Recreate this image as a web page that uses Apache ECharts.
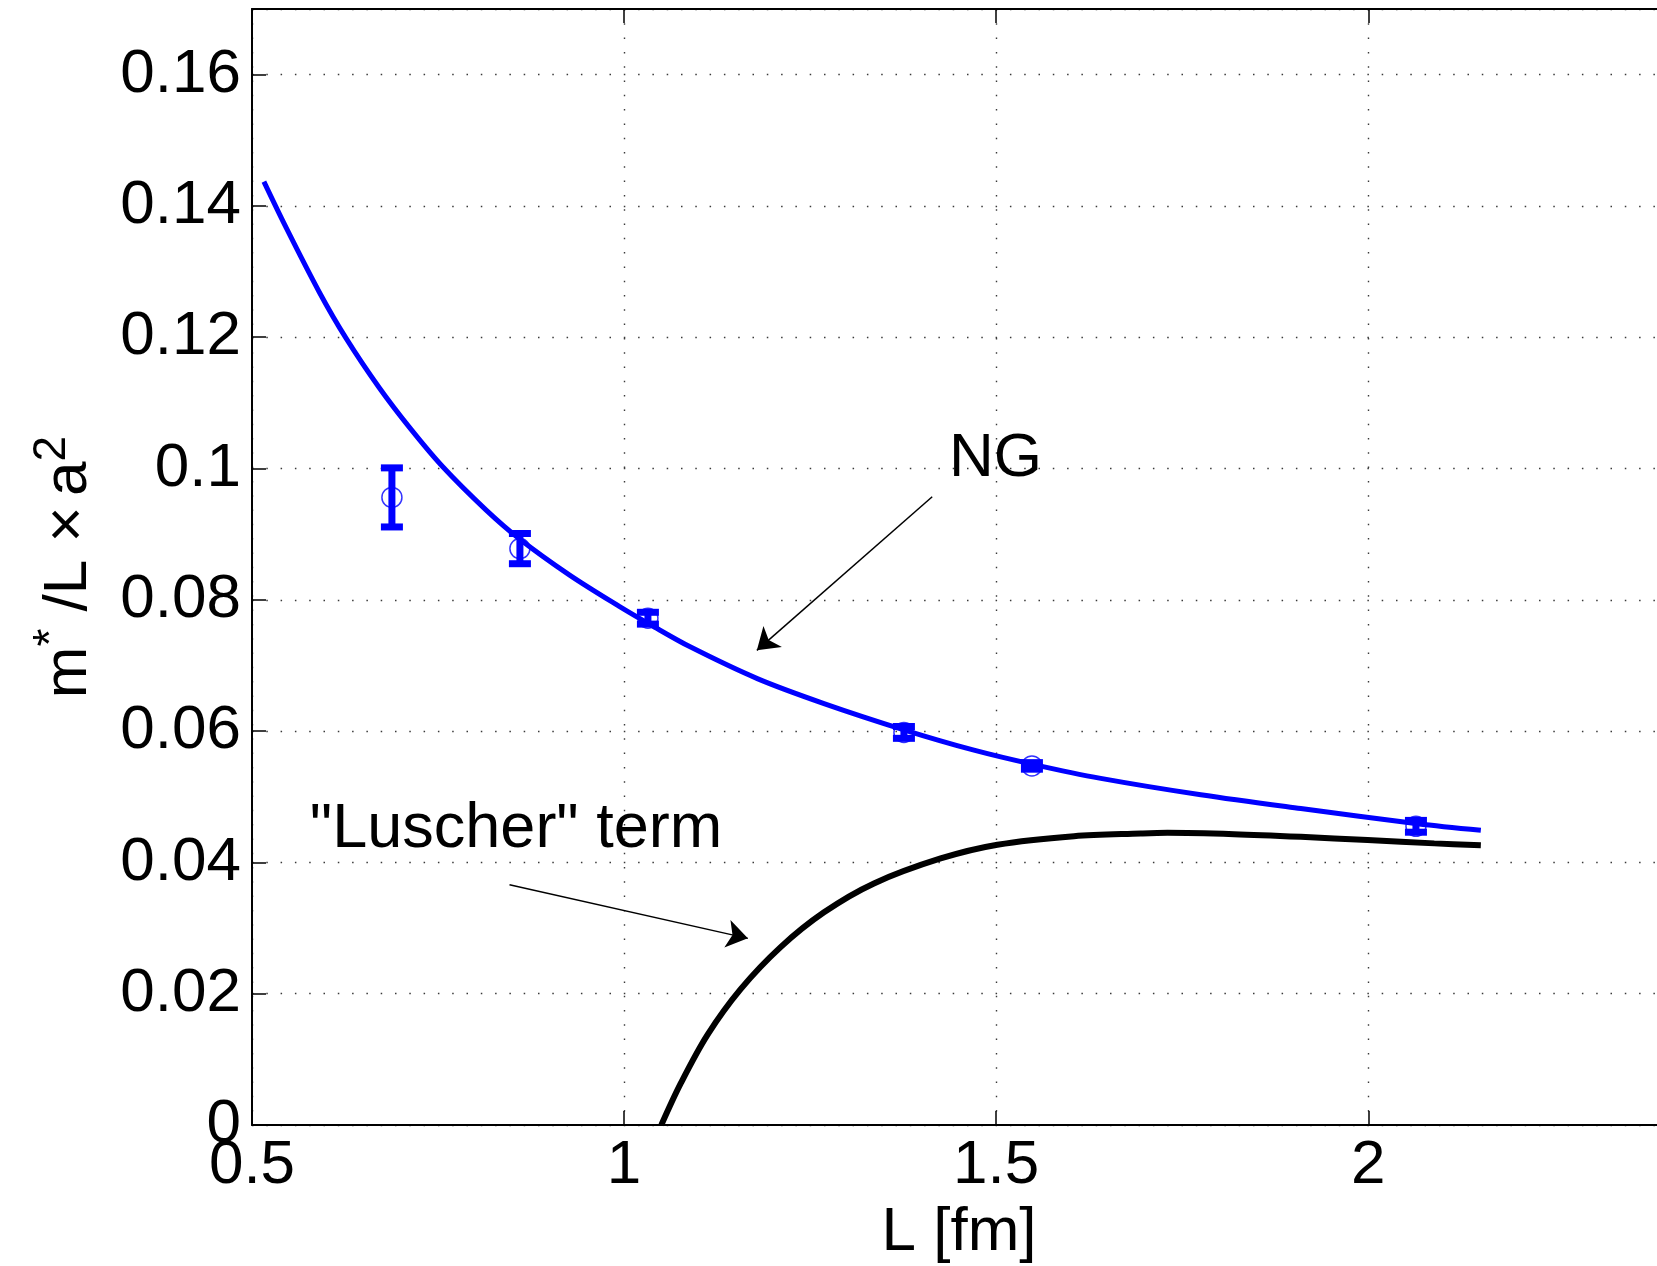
<!DOCTYPE html>
<html>
<head>
<meta charset="utf-8">
<script src="https://cdn.jsdelivr.net/npm/echarts@6/dist/echarts.min.js"></script>
<style>
  html, body { margin: 0; padding: 0; background: #ffffff; }
  #chart { width: 1657px; height: 1266px; }
</style>
</head>
<body>
<div id="chart"></div>
<script>
// Lattice measurements: box size L [fm], m*/L (lattice units) and its error
const L_FM  = [0.688, 0.860, 1.032, 1.376, 1.548, 2.064];
const M_VAL = [0.0956, 0.0878, 0.0772, 0.0598, 0.0547, 0.0455];
const M_ERR = [0.0045, 0.0023, 0.0009, 0.0009, 0.0005, 0.0009];

// Nambu-Goto curve (blue)
const NG_X = [0.516, 0.5454, 0.5903, 0.6261, 0.671, 0.7113, 0.756, 0.8143, 0.8591, 0.9263,
              0.9935, 1.0356, 1.0894, 1.179, 1.2686, 1.376, 1.4701, 1.5508, 1.6405, 1.7749,
              1.9093, 2.0661, 2.1512];
const NG_Y = [0.1437, 0.1368, 0.1269, 0.1199, 0.1123, 0.1063, 0.1003, 0.0937, 0.0893, 0.0838,
              0.0790, 0.0762, 0.0728, 0.0680, 0.0642, 0.0602, 0.0571, 0.0549, 0.0528, 0.0503,
              0.0482, 0.0459, 0.0449];

// "Luscher" term curve (black)
const LU_X = [1.05, 1.0759, 1.1118, 1.1566, 1.2103, 1.2686, 1.3357, 1.4253, 1.5016, 1.6046,
              1.6942, 1.7301, 1.8196, 1.9093, 1.999, 2.0886, 2.1512];
const LU_Y = [0.0, 0.0063, 0.0137, 0.0207, 0.0271, 0.0324, 0.0368, 0.0406, 0.0427, 0.0440,
              0.0444, 0.0445, 0.0443, 0.0439, 0.0434, 0.0429, 0.0426];

// Axis ranges and tick spacing
const X_MIN = 0.5, X_MAX = 2.4, X_STEP = 0.5;
const Y_MIN = 0, Y_MAX = 0.17, Y_STEP = 0.02;

// Text annotations (anchor = text centre) and arrows (tail -> head), in data units
const NOTE_TEXT = ['NG', '"Luscher" term'];
const NOTE_X    = [1.499, 0.8548];
const NOTE_Y    = [0.1014, 0.0450];
const ARROW_FROM = [[1.414, 0.0957], [0.846, 0.0366]];
const ARROW_TO   = [[1.1784, 0.0723], [1.1663, 0.02843]];

const FONT = '"Liberation Sans", Arial, Helvetica, sans-serif';
const FS = 62;

const zip = (xs, ys) => xs.map((x, i) => [x, ys[i]]);

const gridDot = { color: '#3a3a3a', width: 1.4, type: [1.5, 12.8] };

const chart = echarts.init(document.getElementById('chart'), null, { renderer: 'canvas' });

chart.setOption({
  animation: false,
  backgroundColor: '#ffffff',
  grid: { left: 252, top: 9, width: 1414, height: 1116, containLabel: false, outerBoundsMode: 'none' },
  xAxis: [
    {
      type: 'value', position: 'bottom', min: X_MIN, max: X_MAX, interval: X_STEP,
      name: 'L [fm]', nameLocation: 'middle', nameGap: 71,
      nameTextStyle: { fontFamily: FONT, fontSize: FS, color: '#000' },
      axisLine: { show: true, onZero: false, lineStyle: { color: '#000', width: 2 } },
      axisTick: { show: true, inside: true, length: 14, lineStyle: { color: '#000', width: 1.5 } },
      axisLabel: { show: true, margin: 10, fontFamily: FONT, fontSize: FS, color: '#000',
                   showMaxLabel: false },
      splitLine: { show: true, lineStyle: gridDot }
    },
    {
      type: 'value', position: 'top', min: X_MIN, max: X_MAX, interval: X_STEP,
      axisLine: { show: true, onZero: false, lineStyle: { color: '#000', width: 2 } },
      axisTick: { show: true, inside: true, length: 14, lineStyle: { color: '#000', width: 1.5 } },
      axisLabel: { show: false },
      splitLine: { show: false }
    }
  ],
  yAxis: {
    type: 'value', min: Y_MIN, max: Y_MAX, interval: Y_STEP,
    name: '{b|m}{s|*}{b| /L \u00d7\u2006a}{s|2}',
    nameLocation: 'middle', nameRotate: 90, nameGap: 143,
    nameTextStyle: {
      color: '#000',
      rich: {
        b: { fontFamily: FONT, fontSize: FS, color: '#000', lineHeight: 80 },
        s: { fontFamily: FONT, fontSize: 46, color: '#000', lineHeight: 26, verticalAlign: 'top' }
      }
    },
    axisLine: { show: true, onZero: false, lineStyle: { color: '#000', width: 2 } },
    axisTick: { show: true, inside: true, length: 14, lineStyle: { color: '#000', width: 1.5 } },
    axisLabel: { show: true, margin: 11, fontFamily: FONT, fontSize: FS, color: '#000',
                 showMaxLabel: false },
    splitLine: { show: true, lineStyle: gridDot }
  },
  series: [
    {
      name: 'Luscher term', type: 'line', data: zip(LU_X, LU_Y),
      showSymbol: false, smooth: 0.33, clip: true,
      lineStyle: { color: '#000', width: 6 }, z: 2, silent: true
    },
    {
      name: 'NG', type: 'line', data: zip(NG_X, NG_Y),
      showSymbol: false, smooth: 0.33, clip: true,
      lineStyle: { color: '#0000ff', width: 5 }, z: 3, silent: true
    },
    {
      name: 'error bars', type: 'custom', z: 4, silent: true,
      data: L_FM.map((x, i) => [x, M_VAL[i], M_ERR[i]]),
      encode: { x: 0, y: 1 },
      renderItem: function (params, api) {
        const x = api.value(0), y = api.value(1), e = api.value(2);
        const top = api.coord([x, y + e]);
        const bot = api.coord([x, y - e]);
        const hw = 11;
        const st = { stroke: '#0000ff', lineWidth: 7 };
        return {
          type: 'group',
          children: [
            { type: 'line', shape: { x1: top[0], y1: top[1], x2: bot[0], y2: bot[1] }, style: st },
            { type: 'line', shape: { x1: top[0] - hw, y1: top[1], x2: top[0] + hw, y2: top[1] }, style: st },
            { type: 'line', shape: { x1: bot[0] - hw, y1: bot[1], x2: bot[0] + hw, y2: bot[1] }, style: st }
          ]
        };
      }
    },
    {
      name: 'data', type: 'scatter', data: zip(L_FM, M_VAL), z: 5, silent: true,
      symbol: 'circle', symbolSize: 20,
      itemStyle: { color: 'rgba(0,0,0,0)', borderColor: '#0000ff', borderWidth: 1.5 }
    },
    {
      name: 'notes', type: 'custom', z: 6, silent: true,
      data: NOTE_X.map((x, i) => [x, NOTE_Y[i]]),
      encode: { x: 0, y: 1 },
      clip: false,
      renderItem: function (params, api) {
        const p = api.coord([api.value(0), api.value(1)]);
        return {
          type: 'text', x: p[0], y: p[1],
          style: {
            text: NOTE_TEXT[params.dataIndex],
            font: (params.dataIndex === 1 ? 63 : FS) + 'px ' + FONT, fill: '#000',
            align: 'center', verticalAlign: 'middle'
          }
        };
      },
      markLine: {
        silent: true, animation: false,
        symbol: ['none', 'arrow'], symbolSize: 21,
        label: { show: false },
        lineStyle: { color: '#000', width: 1.5, type: 'solid' },
        emphasis: { disabled: true },
        data: ARROW_FROM.map((a, i) => [
          { coord: a },
          { coord: ARROW_TO[i] }
        ])
      }
    }
  ]
});
</script>
</body>
</html>
